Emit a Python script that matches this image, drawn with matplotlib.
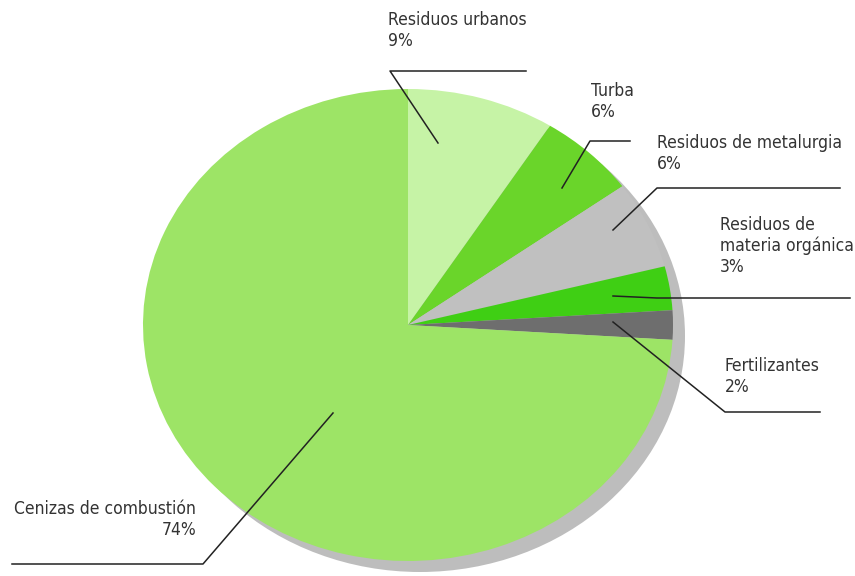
import matplotlib
matplotlib.use("Agg")
import matplotlib.pyplot as plt
from matplotlib.patches import Ellipse

# data
labels = ["Residuos urbanos", "Turba", "Residuos de metalurgia",
          "Residuos de\nmateria orgánica", "Fertilizantes", "Cenizas de combustión"]
values = [9, 6, 6, 3, 2, 74]
colors = ["#c6f3a6", "#6ad52a", "#c0c0c0", "#3fcf14", "#6e6e6e", "#9de466"]

# pixel -> data helpers (pie centre at 408,325 ; radii 265 x 236 px)
CX, CY, RX, RY = 408, 325, 265, 236
def X(px):
    return (px - CX) / RX
def Y(py):
    return (CY - py) / RY

fig = plt.figure(figsize=(8.55, 5.76), dpi=100)
ax = fig.add_axes([0, 0, 1, 1])

# drop shadow
ax.add_patch(Ellipse((12 / RX, -11 / RY), 2, 2, color="#bdbdbd", lw=0, zorder=0))

ax.pie(values, colors=colors, startangle=90, counterclock=False,
       wedgeprops=dict(linewidth=0))
ax.set_aspect("auto")
ax.set_xlim(X(0), X(855))
ax.set_ylim(Y(576), Y(0))
ax.axis("off")

font = dict(family="DejaVu Sans", fontstretch="condensed", fontsize=12.5, color="#333333")

# leader lines: anchor in slice -> elbow -> end
leaders = [
    [(438, 143), (390, 71), (526, 71)],
    [(562, 188), (590, 141), (630, 141)],
    [(613, 230), (657, 188), (840, 188)],
    [(613, 296), (657, 298), (850, 298)],
    [(613, 322), (725, 412), (820, 412)],
    [(333, 413), (203, 564), (12, 564)],
]
for pts in leaders:
    ax.plot([X(p[0]) for p in pts], [Y(p[1]) for p in pts],
            color="#222222", lw=1.1, zorder=5)

# label positions (top-left of text block in px, alignment)
label_pos = [(388, 11, "left"), (591, 82, "left"), (657, 134, "left"),
             (720, 216, "left"), (725, 357, "left"), (196, 500, "right")]
for lab, v, (px, py, ha) in zip(labels, values, label_pos):
    ax.text(X(px), Y(py), f"{lab}\n{v}%", ha=ha, va="top",
            linespacing=1.2, multialignment=ha, **font)

fig.savefig("out.png", dpi=100)
